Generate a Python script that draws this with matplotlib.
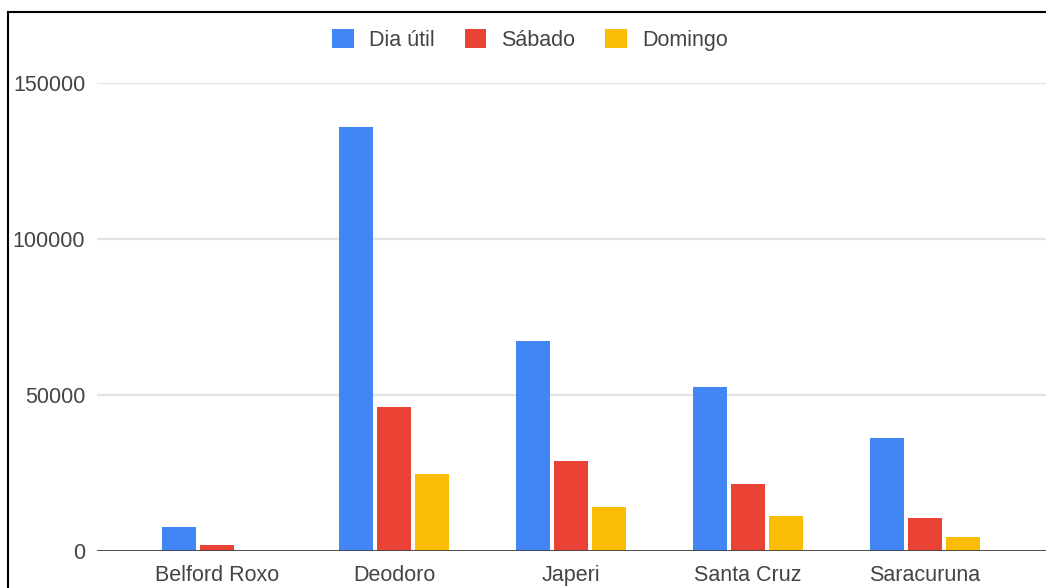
import numpy as np
import matplotlib
matplotlib.use("Agg")
import matplotlib.pyplot as plt
from matplotlib.lines import Line2D

plt.rcParams['font.family'] = ['Liberation Sans', 'DejaVu Sans']

stations = ["Belford Roxo", "Deodoro", "Japeri", "Santa Cruz", "Saracuruna"]
dia_util = [7500, 135900, 67400, 52400, 36100]
sabado = [1700, 46000, 28800, 21300, 10400]
domingo = [0, 24600, 13900, 11100, 4500]

series = [("Dia útil", dia_util, "#4285F4"),
          ("Sábado", sabado, "#EA4335"),
          ("Domingo", domingo, "#FBBC04")]

W, H = 1046, 588
fig = plt.figure(figsize=(W / 100, H / 100), dpi=100)
ax = fig.add_axes([97 / W, 1 - 550.7 / H, 1 - 97 / W, (550.7 - 83) / H])

x = np.arange(len(stations))
bar_w = 0.192
step = 0.2147
for i, (name, vals, col) in enumerate(series):
    ax.bar(x + (i - 1) * step, vals, width=bar_w, color=col, label=name, zorder=3)

ax.set_xlim(-0.678, 4.684)
ax.set_ylim(0, 150000)
ax.set_yticks([0, 50000, 100000, 150000])
ax.set_xticks(x)
ax.set_xticklabels(stations)
ax.grid(axis='y', color='#e3e3e3', linewidth=1.6, zorder=0)
ax.axhline(0, color='#444444', linewidth=1.3, zorder=4)
for s in ax.spines.values():
    s.set_visible(False)
ax.tick_params(length=0, labelsize=15.5, colors='#444444')
ax.tick_params(axis='x', pad=10)
ax.tick_params(axis='y', pad=8.5)

fig.legend(loc='center', bbox_to_anchor=(530 / W, 1 - 40 / H), ncol=3,
           frameon=False, fontsize=15.5, handlelength=1.0, handleheight=1.0,
           handletextpad=0.7, columnspacing=1.4, labelcolor='#444444')

# outer frame of the screenshot
fig.add_artist(Line2D([8 / W, 8 / W], [0, 1 - 12 / H], color='black', linewidth=1.5,
                      transform=fig.transFigure))
fig.add_artist(Line2D([8 / W, 1], [1 - 12 / H, 1 - 12 / H], color='black', linewidth=1.5,
                      transform=fig.transFigure))

fig.savefig("out.png", dpi=100)
